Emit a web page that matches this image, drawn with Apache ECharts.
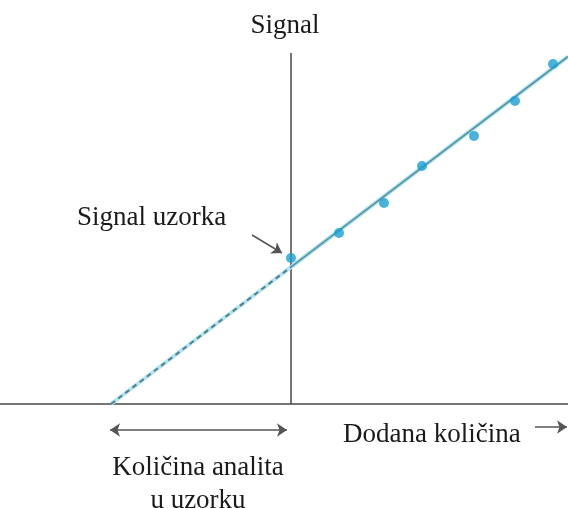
<!DOCTYPE html>
<html>
<head>
<meta charset="utf-8">
<script src="https://cdn.jsdelivr.net/npm/echarts@6/dist/echarts.min.js"></script>
<style>html,body{margin:0;padding:0;background:#fff}#c{width:568px;height:508px}</style>
</head>
<body>
<div id="c"></div>
<script>
// Measured standard-addition points (added amount, signal)
var addedAmount = [0, 4.8, 9.3, 13.1, 18.3, 22.4, 26.2];
var signalValues = [14.6, 17.1, 20.1, 23.8, 26.8, 30.3, 34.0];
// Fitted calibration line: extrapolated part and measured part
var fitDashedX = [-18.0, 0];
var fitDashedY = [0, 13.7];
var fitSolidX = [0, 27.7];
var fitSolidY = [13.7, 34.75];
var yAxisTop = 35.1;

var labels = {
  yName: 'Signal',
  sample: 'Signal uzorka',
  xName: 'Dodana količina',
  analyte1: 'Količina analita',
  analyte2: 'u uzorku'
};

function pairs(xs, ys) { return xs.map(function (x, i) { return [x, ys[i]]; }); }

var FONT = '27px "Liberation Serif", "Times New Roman", serif';
var chart = echarts.init(document.getElementById('c'), null, { renderer: 'canvas' });
chart.setOption({
  animation: false,
  grid: { left: 0, right: 0, top: 0, bottom: 0 },
  xAxis: { type: 'value', min: -29.1, max: 27.7, show: false },
  yAxis: { type: 'value', min: -10.4, max: 40.4, show: false },
  series: [
    {
      type: 'line', data: pairs(fitDashedX, fitDashedY), symbol: 'none', silent: true, clip: false, z: 2,
      lineStyle: { color: '#b2e4f3', width: 4 },
      markLine: {
        silent: true, symbol: 'none', label: { show: false }, z: 1,
        lineStyle: { color: '#474747', width: 1.5, type: 'solid' },
        data: [
          [{ coord: [-29.1, 0] }, { coord: [27.7, 0] }],
          [{ coord: [0, 0] }, { coord: [0, yAxisTop] }]
        ]
      }
    },
    {
      type: 'line', data: pairs(fitDashedX, fitDashedY), symbol: 'none', silent: true, clip: false, z: 3,
      lineStyle: { color: '#50808c', width: 2, type: [5, 4] }
    },
    {
      type: 'line', data: pairs(fitSolidX, fitSolidY), symbol: 'none', silent: true, clip: false, z: 2,
      lineStyle: { color: '#9adcf0', width: 4 }
    },
    {
      type: 'line', data: pairs(fitSolidX, fitSolidY), symbol: 'none', silent: true, clip: false, z: 3,
      lineStyle: { color: '#588b97', width: 1.5 },
      markLine: {
        silent: true, label: { show: false }, symbolSize: 10, z: 4,
        lineStyle: { color: '#555', width: 1.5, type: 'solid' },
        data: [
          [{ coord: [-3.9, 16.9], symbol: 'none' }, { coord: [-0.9, 15.1], symbol: 'arrow' }],
          [{ coord: [-18.1, -2.6], symbol: 'arrow' }, { coord: [-0.4, -2.6], symbol: 'arrow' }],
          [{ coord: [24.4, -2.3], symbol: 'none' }, { coord: [27.6, -2.3], symbol: 'arrow' }]
        ]
      }
    },
    {
      type: 'scatter', data: pairs(addedAmount, signalValues), symbolSize: 10, silent: true, clip: false, z: 10,
      itemStyle: { color: '#1a9fd3' }
    }
  ],
  graphic: [
    { type: 'text', x: 285, y: 26, style: { text: labels.yName, font: FONT, fill: '#1a1a1a', textAlign: 'center', textVerticalAlign: 'middle' } },
    { type: 'text', x: 77, y: 218, style: { text: labels.sample, font: FONT, fill: '#1a1a1a', textAlign: 'left', textVerticalAlign: 'middle' } },
    { type: 'text', x: 343, y: 435, style: { text: labels.xName, font: FONT, fill: '#1a1a1a', textAlign: 'left', textVerticalAlign: 'middle' } },
    { type: 'text', x: 198, y: 468, style: { text: labels.analyte1, font: FONT, fill: '#1a1a1a', textAlign: 'center', textVerticalAlign: 'middle' } },
    { type: 'text', x: 198, y: 501, style: { text: labels.analyte2, font: FONT, fill: '#1a1a1a', textAlign: 'center', textVerticalAlign: 'middle' } }
  ]
});
</script>
</body>
</html>
